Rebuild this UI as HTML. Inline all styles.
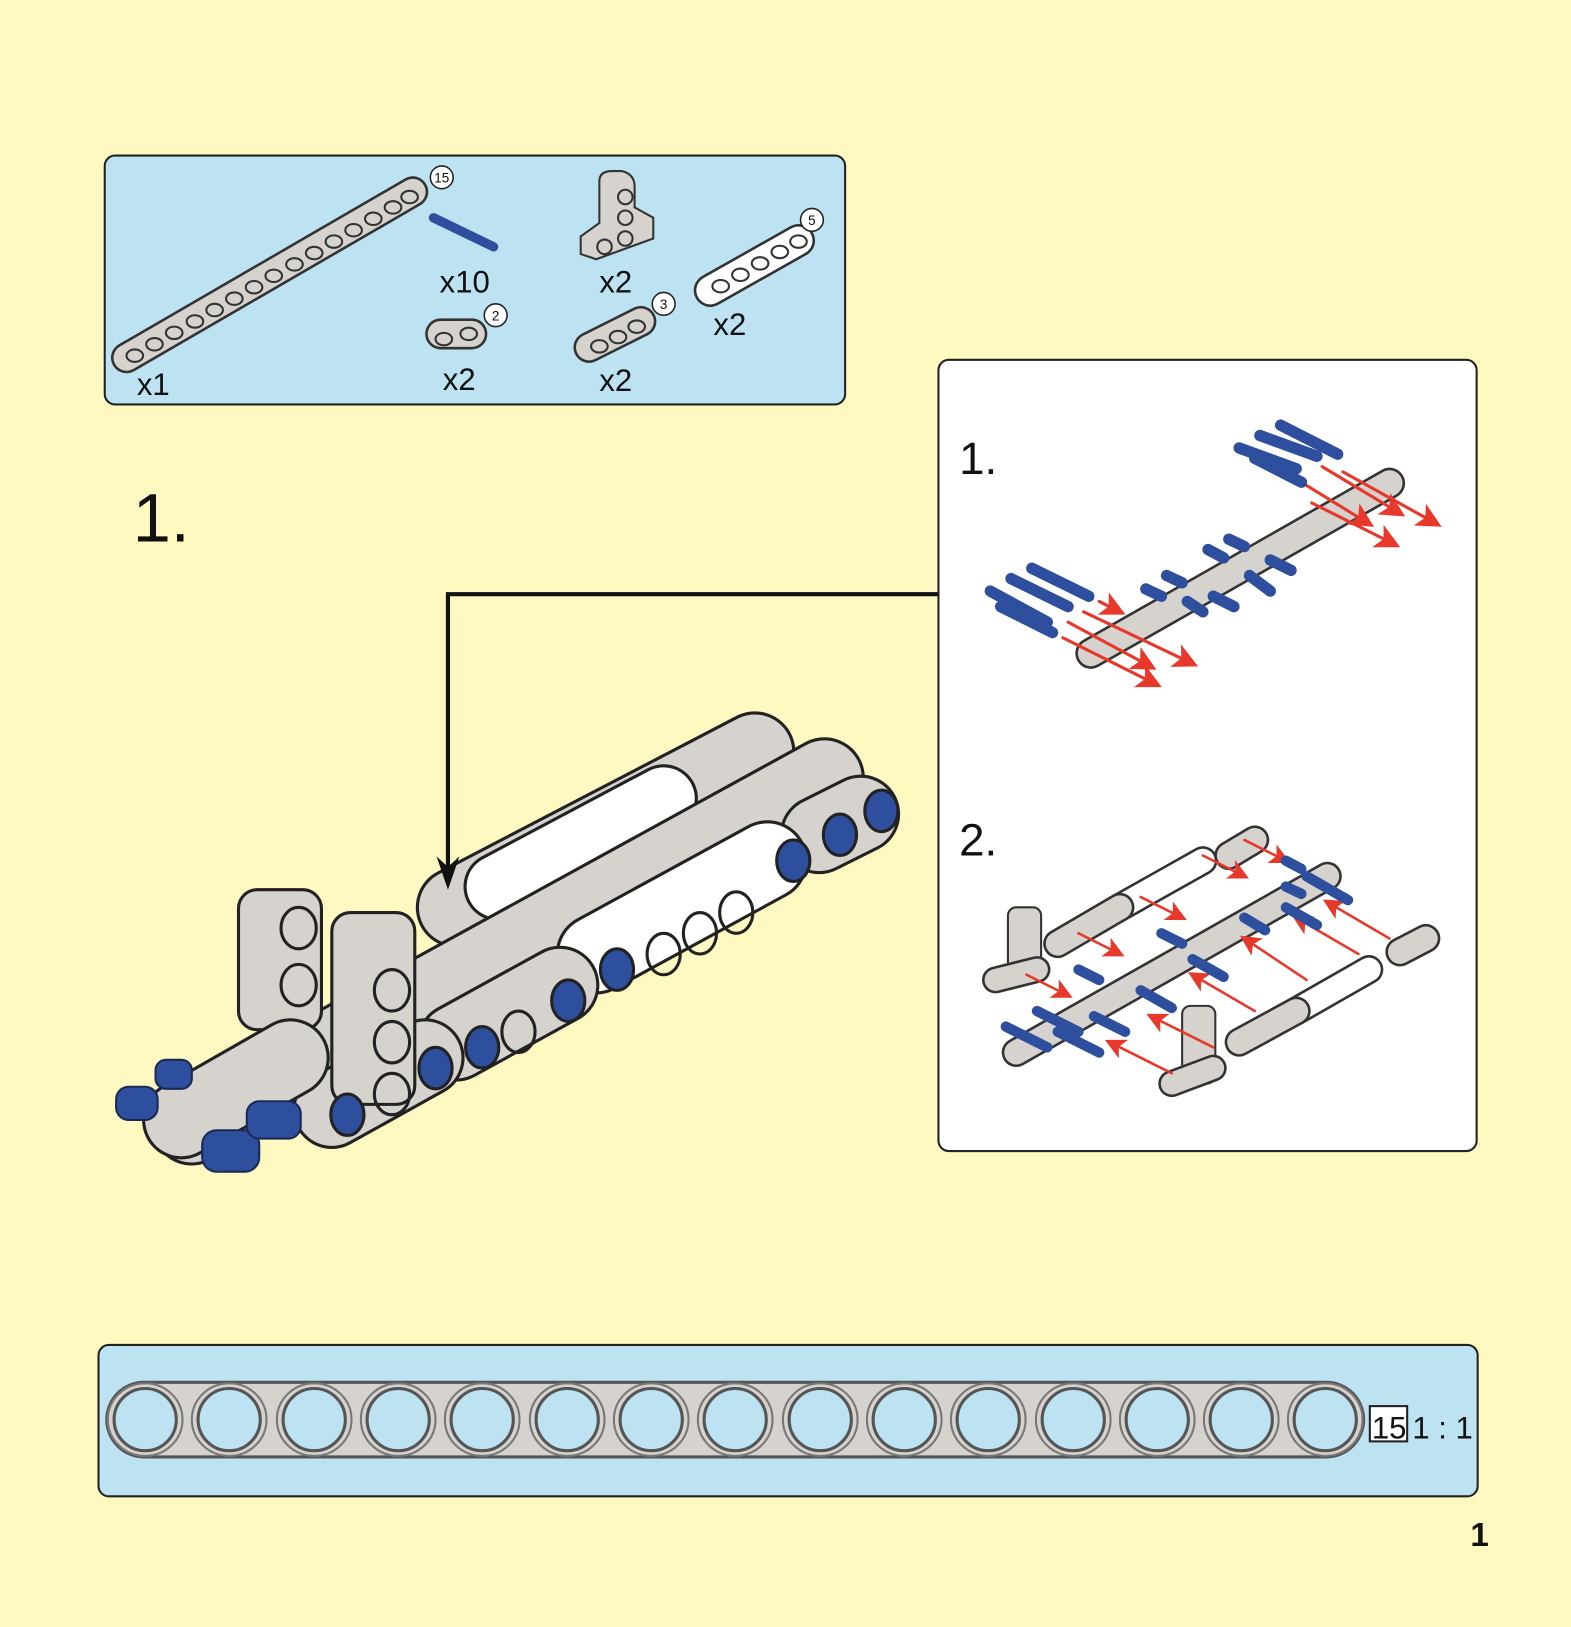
<!DOCTYPE html>
<html><head><meta charset="utf-8"><style>
html,body{margin:0;padding:0;background:#fff8c0;}
svg{display:block}
text{font-family:"Liberation Sans",sans-serif;}
</style></head><body>
<svg width="1571" height="1627" viewBox="0 0 1515 1569" preserveAspectRatio="none" xmlns="http://www.w3.org/2000/svg">
<defs>
<marker id="ah" markerWidth="8" markerHeight="8" refX="6" refY="4" orient="auto" markerUnits="strokeWidth"><path d="M0,0 L8,4 L0,8 L2,4z" fill="#e8382b"/></marker>
</defs>
<rect width="1515" height="1569" fill="#fff8c0"/>

<!-- parts box -->
<rect x="101" y="150" width="714" height="240" rx="10" fill="#bde3f3" stroke="#222" stroke-width="2"/>
<g stroke-linecap="round">
<line x1="122" y1="345" x2="398" y2="185" stroke="#333" stroke-width="30"/>
<line x1="122" y1="345" x2="398" y2="185" stroke="#d6d2cd" stroke-width="25"/>
<g fill="none" stroke="#333" stroke-width="2">
<ellipse cx="130" cy="343" rx="8" ry="6"/><ellipse cx="149" cy="332" rx="8" ry="6"/><ellipse cx="168" cy="321" rx="8" ry="6"/><ellipse cx="188" cy="310" rx="8" ry="6"/><ellipse cx="207" cy="299" rx="8" ry="6"/><ellipse cx="226" cy="288" rx="8" ry="6"/><ellipse cx="245" cy="277" rx="8" ry="6"/><ellipse cx="264" cy="266" rx="8" ry="6"/><ellipse cx="284" cy="255" rx="8" ry="6"/><ellipse cx="303" cy="244" rx="8" ry="6"/><ellipse cx="322" cy="233" rx="8" ry="6"/><ellipse cx="341" cy="222" rx="8" ry="6"/><ellipse cx="360" cy="211" rx="8" ry="6"/><ellipse cx="379" cy="200" rx="8" ry="6"/><ellipse cx="395" cy="190" rx="8" ry="6"/>
</g>
<line x1="418" y1="210" x2="476" y2="238" stroke="#2d4f9e" stroke-width="9"/>
<line x1="425" y1="322" x2="455" y2="322" stroke="#333" stroke-width="30"/>
<line x1="425" y1="322" x2="455" y2="322" stroke="#d6d2cd" stroke-width="25"/>
<line x1="568" y1="335" x2="618" y2="310" stroke="#333" stroke-width="30"/>
<line x1="568" y1="335" x2="618" y2="310" stroke="#d6d2cd" stroke-width="25"/>
<line x1="685" y1="280" x2="770" y2="232" stroke="#333" stroke-width="32"/>
<line x1="685" y1="280" x2="770" y2="232" stroke="#fff" stroke-width="27"/>
<g fill="none" stroke="#333" stroke-width="2"><ellipse cx="695" cy="276" rx="8" ry="6"/><ellipse cx="714" cy="265" rx="8" ry="6"/><ellipse cx="733" cy="254" rx="8" ry="6"/><ellipse cx="752" cy="243" rx="8" ry="6"/><ellipse cx="770" cy="233" rx="8" ry="6"/><ellipse cx="428" cy="327" rx="8" ry="6"/><ellipse cx="452" cy="322" rx="8" ry="6"/><ellipse cx="578" cy="334" rx="8" ry="6"/><ellipse cx="596" cy="325" rx="8" ry="6"/><ellipse cx="614" cy="315" rx="8" ry="6"/></g>
<path d="M578,175 Q578,165 590,165 L600,165 Q612,168 612,180 L612,200 L630,210 L630,230 L575,250 L560,245 L560,228 L578,215Z" fill="#d6d2cd" stroke="#333" stroke-width="2"/>
<g fill="none" stroke="#333" stroke-width="2"><circle cx="603" cy="190" r="7"/><circle cx="603" cy="210" r="7"/><circle cx="603" cy="230" r="7"/><circle cx="583" cy="238" r="7"/></g>
</g>
<g font-size="30" fill="#111">
<text x="132" y="381">x1</text><text x="424" y="282">x10</text><text x="427" y="376">x2</text>
<text x="578" y="282">x2</text><text x="578" y="377">x2</text><text x="688" y="323">x2</text>
</g>
<g fill="#fff" stroke="#222" stroke-width="1.5"><circle cx="426" cy="171" r="11"/><circle cx="478" cy="304" r="11"/><circle cx="640" cy="293" r="11"/><circle cx="783" cy="212" r="11"/></g>
<g font-size="13" fill="#111" text-anchor="middle"><text x="426" y="176">15</text><text x="478" y="309">2</text><text x="640" y="298">3</text><text x="783" y="217">5</text></g>

<!-- step number -->
<text x="128" y="522" font-size="66" fill="#111">1.</text>

<!-- main assembly -->
<g stroke-linecap="round" stroke-linejoin="round">
<line x1="728" y1="725" x2="440" y2="875" stroke="#222" stroke-width="78"/>
<line x1="728" y1="725" x2="440" y2="875" stroke="#d6d2cd" stroke-width="72"/>
<line x1="640" y1="770" x2="480" y2="855" stroke="#222" stroke-width="66"/>
<line x1="640" y1="770" x2="480" y2="855" stroke="#fff" stroke-width="60"/>
<line x1="795" y1="750" x2="185" y2="1085" stroke="#222" stroke-width="78"/>
<line x1="795" y1="750" x2="185" y2="1085" stroke="#d6d2cd" stroke-width="72"/>
<line x1="830" y1="785" x2="790" y2="805" stroke="#222" stroke-width="76"/>
<line x1="830" y1="785" x2="790" y2="805" stroke="#d6d2cd" stroke-width="70"/>
<line x1="740" y1="830" x2="575" y2="920" stroke="#222" stroke-width="78"/>
<line x1="740" y1="830" x2="575" y2="920" stroke="#fff" stroke-width="72"/>
<line x1="540" y1="950" x2="440" y2="1005" stroke="#222" stroke-width="76"/>
<line x1="540" y1="950" x2="440" y2="1005" stroke="#d6d2cd" stroke-width="70"/>
<line x1="410" y1="1020" x2="320" y2="1070" stroke="#222" stroke-width="76"/>
<line x1="410" y1="1020" x2="320" y2="1070" stroke="#d6d2cd" stroke-width="70"/>
<rect x="230" y="858" width="80" height="135" rx="18" fill="#d6d2cd" stroke="#222" stroke-width="3"/>
<rect x="320" y="880" width="80" height="185" rx="18" fill="#d6d2cd" stroke="#222" stroke-width="3"/>
<line x1="280" y1="1020" x2="175" y2="1080" stroke="#222" stroke-width="76"/>
<line x1="280" y1="1020" x2="175" y2="1080" stroke="#d6d2cd" stroke-width="70"/>
</g>
<g fill="none" stroke="#222" stroke-width="3">
<ellipse cx="288" cy="895" rx="17" ry="20"/><ellipse cx="288" cy="950" rx="17" ry="20"/>
<ellipse cx="378" cy="955" rx="17" ry="20"/><ellipse cx="378" cy="1005" rx="17" ry="20"/><ellipse cx="378" cy="1055" rx="17" ry="20"/>
<ellipse cx="500" cy="995" rx="16" ry="20"/><ellipse cx="640" cy="920" rx="16" ry="20"/><ellipse cx="675" cy="900" rx="16" ry="20"/><ellipse cx="710" cy="880" rx="16" ry="20"/>
</g>
<g fill="#2d4f9e" stroke="#222" stroke-width="3">
<ellipse cx="335" cy="1075" rx="16" ry="20"/><ellipse cx="420" cy="1030" rx="16" ry="20"/><ellipse cx="465" cy="1010" rx="16" ry="20"/><ellipse cx="548" cy="965" rx="16" ry="20"/><ellipse cx="595" cy="935" rx="16" ry="20"/><ellipse cx="765" cy="830" rx="16" ry="20"/><ellipse cx="810" cy="805" rx="16" ry="20"/><ellipse cx="850" cy="782" rx="16" ry="20"/>
</g>
<g fill="#2d4f9e" stroke="#1a2a55" stroke-width="2">
<rect x="112" y="1048" width="40" height="32" rx="12"/><rect x="150" y="1022" width="35" height="28" rx="10"/>
<rect x="195" y="1090" width="55" height="40" rx="14"/><rect x="238" y="1062" width="52" height="36" rx="12"/>
</g>

<!-- connector (on top) -->
<polyline points="905,573 432,573 432,840" fill="none" stroke="#111" stroke-width="4"/>
<path d="M421,826 L432,858 L443,826 L432,836Z" fill="#111"/>

<!-- right panel -->
<rect x="905" y="347" width="519" height="763" rx="10" fill="#fff" stroke="#222" stroke-width="2"/>
<text x="925" y="457" font-size="44" fill="#111">1.</text>
<text x="925" y="825" font-size="44" fill="#111">2.</text>
<g stroke-linecap="round">
<line x1="1340" y1="466" x2="1052" y2="630" stroke="#333" stroke-width="30"/>
<line x1="1340" y1="466" x2="1052" y2="630" stroke="#d6d2cd" stroke-width="25"/>
<g stroke="#e8382b" stroke-width="3" marker-end="url(#ah)">
<line x1="1250" y1="462" x2="1320" y2="505"/><line x1="1275" y1="450" x2="1350" y2="495"/><line x1="1295" y1="455" x2="1385" y2="505"/><line x1="1265" y1="485" x2="1345" y2="525"/>
<line x1="1030" y1="600" x2="1110" y2="643"/><line x1="1045" y1="590" x2="1150" y2="640"/><line x1="1025" y1="615" x2="1115" y2="660"/><line x1="1060" y1="580" x2="1080" y2="590"/>
</g>
<g stroke="#2d4f9e" stroke-width="11">
<line x1="1195" y1="432" x2="1250" y2="452"/><line x1="1215" y1="420" x2="1270" y2="440"/><line x1="1235" y1="410" x2="1290" y2="438"/><line x1="1210" y1="442" x2="1255" y2="465"/>
<line x1="955" y1="570" x2="1010" y2="600"/><line x1="975" y1="558" x2="1030" y2="585"/><line x1="995" y1="548" x2="1050" y2="575"/><line x1="965" y1="585" x2="1015" y2="610"/>
<line x1="1105" y1="568" x2="1120" y2="575"/><line x1="1125" y1="555" x2="1140" y2="562"/><line x1="1145" y1="580" x2="1160" y2="590"/><line x1="1165" y1="530" x2="1180" y2="538"/><line x1="1185" y1="520" x2="1200" y2="527"/><line x1="1205" y1="555" x2="1225" y2="570"/><line x1="1225" y1="540" x2="1245" y2="550"/><line x1="1170" y1="575" x2="1190" y2="585"/>
</g>
<!-- step 2 -->
<line x1="1280" y1="845" x2="980" y2="1015" stroke="#333" stroke-width="28"/>
<line x1="1280" y1="845" x2="980" y2="1015" stroke="#d6d2cd" stroke-width="23"/>
<line x1="1160" y1="830" x2="1080" y2="875" stroke="#333" stroke-width="28"/>
<line x1="1160" y1="830" x2="1080" y2="875" stroke="#fff" stroke-width="23"/>
<line x1="1080" y1="875" x2="1020" y2="910" stroke="#333" stroke-width="28"/>
<line x1="1080" y1="875" x2="1020" y2="910" stroke="#d6d2cd" stroke-width="23"/>
<line x1="1210" y1="810" x2="1185" y2="825" stroke="#333" stroke-width="28"/>
<line x1="1210" y1="810" x2="1185" y2="825" stroke="#d6d2cd" stroke-width="23"/>
<line x1="1320" y1="935" x2="1250" y2="975" stroke="#333" stroke-width="28"/>
<line x1="1320" y1="935" x2="1250" y2="975" stroke="#fff" stroke-width="23"/>
<line x1="1250" y1="975" x2="1195" y2="1005" stroke="#333" stroke-width="28"/>
<line x1="1250" y1="975" x2="1195" y2="1005" stroke="#d6d2cd" stroke-width="23"/>
<line x1="1375" y1="905" x2="1350" y2="918" stroke="#333" stroke-width="28"/>
<line x1="1375" y1="905" x2="1350" y2="918" stroke="#d6d2cd" stroke-width="23"/>
<rect x="972" y="875" width="32" height="60" rx="8" fill="#d6d2cd" stroke="#333" stroke-width="2"/>
<rect x="1140" y="970" width="32" height="75" rx="8" fill="#d6d2cd" stroke="#333" stroke-width="2"/>
<line x1="1000" y1="935" x2="960" y2="945" stroke="#333" stroke-width="26"/>
<line x1="1000" y1="935" x2="960" y2="945" stroke="#d6d2cd" stroke-width="21"/>
<line x1="1170" y1="1030" x2="1130" y2="1045" stroke="#333" stroke-width="26"/>
<line x1="1170" y1="1030" x2="1130" y2="1045" stroke="#d6d2cd" stroke-width="21"/>
<g stroke="#e8382b" stroke-width="2.5" marker-end="url(#ah)">
<line x1="1340" y1="905" x2="1280" y2="870"/><line x1="1310" y1="920" x2="1250" y2="885"/><line x1="1260" y1="945" x2="1200" y2="905"/><line x1="1210" y1="975" x2="1150" y2="940"/><line x1="1170" y1="1010" x2="1110" y2="980"/><line x1="1130" y1="1035" x2="1070" y2="1005"/>
<line x1="1160" y1="825" x2="1200" y2="845"/><line x1="1100" y1="865" x2="1140" y2="885"/><line x1="1040" y1="900" x2="1080" y2="920"/><line x1="990" y1="940" x2="1030" y2="960"/><line x1="1200" y1="810" x2="1240" y2="830"/>
</g>
<g stroke="#2d4f9e" stroke-width="10">
<line x1="1240" y1="855" x2="1255" y2="862"/><line x1="1260" y1="845" x2="1300" y2="868"/><line x1="1240" y1="875" x2="1270" y2="892"/><line x1="1200" y1="885" x2="1220" y2="897"/><line x1="1150" y1="925" x2="1180" y2="942"/><line x1="1100" y1="955" x2="1130" y2="972"/><line x1="1055" y1="980" x2="1085" y2="995"/><line x1="970" y1="990" x2="1010" y2="1010"/><line x1="1000" y1="975" x2="1040" y2="995"/><line x1="1020" y1="995" x2="1060" y2="1015"/><line x1="1040" y1="935" x2="1060" y2="945"/><line x1="1120" y1="900" x2="1140" y2="910"/><line x1="1240" y1="830" x2="1255" y2="838"/>
</g>
</g>

<!-- bottom ruler -->
<rect x="95" y="1297" width="1330" height="146" rx="10" fill="#bde3f3" stroke="#222" stroke-width="2"/>
<rect x="103" y="1333" width="1212" height="72" rx="36" fill="#d6d2cd" stroke="#555" stroke-width="3"/>
<g fill="#bde3f3" stroke="#555" stroke-width="3">
<ellipse cx="140" cy="1369" rx="30" ry="30"/><ellipse cx="221" cy="1369" rx="30" ry="30"/><ellipse cx="303" cy="1369" rx="30" ry="30"/><ellipse cx="384" cy="1369" rx="30" ry="30"/><ellipse cx="465" cy="1369" rx="30" ry="30"/><ellipse cx="547" cy="1369" rx="30" ry="30"/><ellipse cx="628" cy="1369" rx="30" ry="30"/><ellipse cx="709" cy="1369" rx="30" ry="30"/><ellipse cx="791" cy="1369" rx="30" ry="30"/><ellipse cx="872" cy="1369" rx="30" ry="30"/><ellipse cx="953" cy="1369" rx="30" ry="30"/><ellipse cx="1035" cy="1369" rx="30" ry="30"/><ellipse cx="1116" cy="1369" rx="30" ry="30"/><ellipse cx="1197" cy="1369" rx="30" ry="30"/><ellipse cx="1278" cy="1369" rx="30" ry="30"/>
</g>
<g fill="none" stroke="#777" stroke-width="2">
<ellipse cx="140" cy="1369" rx="36" ry="35"/><ellipse cx="221" cy="1369" rx="36" ry="35"/><ellipse cx="303" cy="1369" rx="36" ry="35"/><ellipse cx="384" cy="1369" rx="36" ry="35"/><ellipse cx="465" cy="1369" rx="36" ry="35"/><ellipse cx="547" cy="1369" rx="36" ry="35"/><ellipse cx="628" cy="1369" rx="36" ry="35"/><ellipse cx="709" cy="1369" rx="36" ry="35"/><ellipse cx="791" cy="1369" rx="36" ry="35"/><ellipse cx="872" cy="1369" rx="36" ry="35"/><ellipse cx="953" cy="1369" rx="36" ry="35"/><ellipse cx="1035" cy="1369" rx="36" ry="35"/><ellipse cx="1116" cy="1369" rx="36" ry="35"/><ellipse cx="1197" cy="1369" rx="36" ry="35"/><ellipse cx="1278" cy="1369" rx="36" ry="35"/>
</g>
<rect x="1321" y="1356" width="36" height="34" fill="#fff" stroke="#222" stroke-width="2"/>
<text x="1323" y="1387" font-size="30" fill="#111">15</text>
<text x="1362" y="1387" font-size="30" fill="#111">1 : 1</text>
<text x="1418" y="1491" font-size="32" font-weight="bold" fill="#111">1</text>
</svg>
</body></html>
